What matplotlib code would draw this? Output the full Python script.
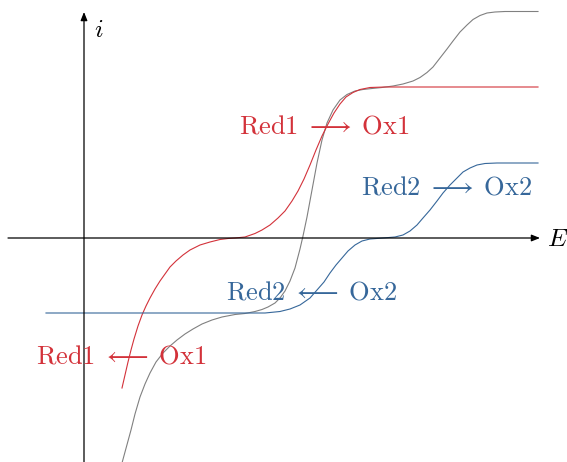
import matplotlib
matplotlib.use("Agg")
import matplotlib.pyplot as plt

plt.rcParams['mathtext.fontset'] = 'cm'

# potential E and current i, 1 unit = 10 px on the sheet
red_E = [3.8, 4.1, 4.4, 4.7, 5.0, 5.4, 5.8, 6.2, 6.6, 7.1, 7.6, 8.1, 8.6, 9.2, 9.9,
         10.6, 11.6, 12.6, 13.6, 14.4, 15.1, 16.1, 17.1, 17.8, 18.6, 19.4, 20.1,
         20.8, 21.4, 22.0, 22.6, 23.2, 23.8, 24.4, 25.0, 25.6, 26.2, 26.9, 27.6,
         28.6, 30.1, 45.4]
red_i = [-15.0, -13.7, -12.4, -11.2, -10.1, -8.8, -7.7, -6.8, -6.0, -5.1, -4.3,
         -3.6, -2.9, -2.3, -1.7, -1.2, -0.7, -0.4, -0.15, -0.05, 0.0, 0.1, 0.45,
         0.8, 1.3, 2.0, 2.7, 3.7, 4.7, 5.9, 7.3, 8.8, 10.2, 11.4, 12.5, 13.4,
         14.1, 14.55, 14.85, 15.05, 15.1, 15.1]

blue_E = [-3.8, 18.1, 18.6, 19.6, 20.6, 21.6, 22.6, 23.3, 24.0, 24.6, 25.2, 25.8,
          26.4, 27.1, 27.8, 28.6, 29.9, 31.1, 31.9, 32.6, 33.3, 33.9, 34.6, 35.3,
          35.9, 36.6, 37.3, 37.9, 38.6, 39.3, 40.1, 41.3, 45.4]
blue_i = [-7.5, -7.5, -7.45, -7.35, -7.1, -6.7, -6.0, -5.2, -4.4, -3.5, -2.7,
          -2.0, -1.3, -0.7, -0.3, -0.1, 0.0, 0.1, 0.3, 0.7, 1.3, 2.0, 2.8, 3.7,
          4.5, 5.3, 6.0, 6.6, 7.0, 7.3, 7.45, 7.5, 7.5]

total_E = [3.8, 4.1, 4.4, 4.7, 5.1, 5.6, 6.1, 6.6, 7.2, 7.9, 8.6, 9.3, 10.1, 10.9,
           11.8, 12.8, 13.8, 15.1, 16.1, 17.1, 17.8, 18.4, 19.1, 19.6, 20.1, 20.6,
           21.1, 21.6, 21.9, 22.3, 22.8, 23.3, 23.8, 24.3, 24.9, 25.6, 26.3, 27.1,
           27.9, 28.8, 29.8, 30.9, 31.9, 32.9, 33.6, 34.3, 34.9, 35.6, 36.3, 36.9,
           37.6, 38.3, 38.9, 39.6, 40.3, 41.1, 42.1, 45.4]
total_i = [-22.5, -21.4, -20.3, -19.2, -17.6, -15.9, -14.6, -13.5, -12.4, -11.5,
           -10.8, -10.2, -9.6, -9.1, -8.6, -8.2, -7.9, -7.65, -7.55, -7.35, -7.15,
           -6.9, -6.5, -6.0, -5.3, -4.3, -3.0, -1.1, 0.2, 2.1, 4.8, 7.5, 9.8,
           11.5, 12.8, 13.8, 14.35, 14.7, 14.85, 14.95, 15.05, 15.2, 15.4, 15.7,
           16.05, 16.55, 17.1, 18.0, 18.9, 19.7, 20.6, 21.3, 21.85, 22.25, 22.5,
           22.6, 22.65, 22.65]

RED = '#d3323a'
BLUE = '#36679a'
GRAY = '#808080'

fig = plt.figure(figsize=(5.67, 4.62), dpi=100)
ax = fig.add_axes([0, 0, 1, 1])
ax.set_xlim(-8.4, 48.3)
ax.set_ylim(-22.4, 23.8)
ax.axis('off')

# axes with arrow tips
arrow = dict(arrowstyle='-|>,head_length=0.5,head_width=0.2', color='black',
             lw=0.9, shrinkA=0, shrinkB=0)
ax.annotate('', xy=(45.6, 0), xytext=(-7.6, 0), arrowprops=arrow)
ax.annotate('', xy=(0, 22.6), xytext=(0, -22.6), arrowprops=arrow)
ax.text(46.3, -0.8, r'$E$', fontsize=18, ha='left', va='baseline')
ax.text(1.0, 20.1, r'$i$', fontsize=18, ha='left', va='baseline')

ax.plot(total_E, total_i, color=GRAY, lw=0.8)
ax.plot(red_E, red_i, color=RED, lw=0.8)
ax.plot(blue_E, blue_i, color=BLUE, lw=0.8)

fs = 19
ax.text(24.05, 10.5, r'$\mathrm{Red1}\;\longrightarrow\;\mathrm{Ox1}$', color=RED,
        fontsize=fs, ha='center', va='baseline')
ax.text(3.7, -12.5, r'$\mathrm{Red1}\;\longleftarrow\;\mathrm{Ox1}$', color=RED,
        fontsize=fs, ha='center', va='baseline')
ax.text(36.2, 4.35, r'$\mathrm{Red2}\;\longrightarrow\;\mathrm{Ox2}$', color=BLUE,
        fontsize=fs, ha='center', va='baseline')
ax.text(22.7, -6.15, r'$\mathrm{Red2}\;\longleftarrow\;\mathrm{Ox2}$', color=BLUE,
        fontsize=fs, ha='center', va='baseline')

fig.savefig('out.png', dpi=100)
